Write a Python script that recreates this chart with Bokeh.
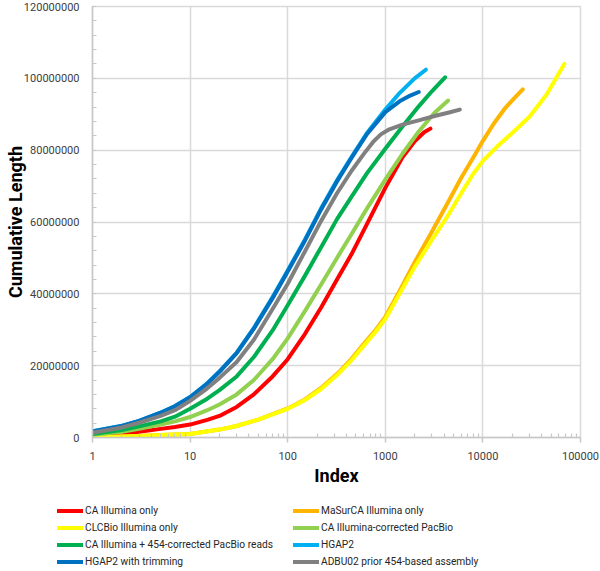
from bokeh.plotting import figure
from bokeh.models import Range1d, FixedTicker, NumeralTickFormatter, Legend, LegendItem
from bokeh.embed import file_html
from bokeh.resources import INLINE

# ---------------- data (index, cumulative length in millions of bp) ----------------
red_x = [1, 2, 3, 5, 7, 10, 15, 20, 30, 45, 70, 100, 150, 220, 320, 450, 650, 1000, 1500, 2000, 2500, 2900]
red_y = [0.5, 1.1, 1.6, 2.4, 2.9, 3.6, 4.9, 6.0, 8.5, 12.0, 17.0, 21.8, 28.8, 36.2, 44.0, 51.0, 59.5, 69.5, 78.0, 82.5, 85.0, 86.0]

orange_x = [1, 2, 3, 5, 10, 20, 30, 50, 100, 150, 220, 330, 450, 600, 800, 1000, 1400, 2000, 3000, 4200, 6000, 8000, 10000, 13000, 17000, 21000, 25600]
orange_y = [0.05, 0.25, 0.45, 0.7, 1.0, 2.2, 3.2, 5.0, 8.1, 10.6, 13.8, 18.0, 21.9, 26.0, 30.0, 33.6, 40.8, 48.8, 57.3, 64.5, 72.3, 78.0, 82.6, 87.5, 91.8, 94.5, 96.9]

yellow_x = [1, 2, 3, 5, 10, 20, 30, 50, 100, 150, 220, 330, 450, 600, 800, 1000, 1400, 2000, 3000, 4200, 6000, 8000, 10000, 14000, 20000, 30000, 45000, 68200]
yellow_y = [0.05, 0.25, 0.45, 0.7, 1.0, 2.2, 3.2, 5.0, 8.0, 10.4, 13.5, 17.7, 21.5, 25.5, 29.5, 33.0, 40.0, 47.5, 55.0, 61.0, 68.0, 73.5, 77.0, 81.0, 84.8, 89.3, 95.5, 104.0]

lgreen_x = [1, 2, 3, 5, 7, 10, 15, 20, 30, 45, 70, 100, 150, 220, 320, 450, 650, 1000, 1500, 2200, 3200, 4400]
lgreen_y = [0.75, 1.6, 2.4, 3.6, 4.5, 5.7, 7.6, 9.2, 12.0, 16.0, 21.8, 27.6, 35.2, 42.6, 50.0, 56.6, 63.8, 71.8, 79.0, 85.2, 90.4, 93.8]

green_x = [1, 2, 3, 5, 7, 10, 15, 20, 30, 45, 70, 100, 150, 220, 320, 450, 650, 1000, 1500, 2200, 3000, 4100]
green_y = [1.0, 2.1, 3.1, 4.5, 5.8, 8.0, 10.8, 13.2, 17.0, 22.4, 29.8, 36.8, 45.0, 53.0, 60.8, 67.0, 73.6, 80.4, 86.6, 92.2, 96.4, 100.3]

lblue_x = [1, 2, 3, 5, 7, 10, 15, 20, 30, 45, 70, 100, 150, 220, 320, 450, 650, 1000, 1400, 2000, 2600]
lblue_y = [1.75, 3.25, 4.65, 6.95, 8.75, 11.25, 15.1, 18.4, 23.6, 30.5, 39.1, 46.5, 55.1, 63.8, 71.6, 78.1, 84.8, 91.3, 95.9, 100.0, 102.4]

dblue_x = [1, 2, 3, 5, 7, 10, 15, 20, 30, 45, 70, 100, 150, 220, 320, 450, 650, 1000, 1400, 1800, 2200]
dblue_y = [1.7, 3.2, 4.6, 6.9, 8.7, 11.2, 15.0, 18.3, 23.5, 30.3, 38.8, 46.2, 54.8, 63.5, 71.3, 77.8, 84.5, 90.6, 93.6, 95.2, 96.2]

gray_x = [1, 2, 3, 5, 7, 10, 15, 20, 30, 45, 70, 100, 150, 220, 320, 450, 600, 750, 900, 1100, 1500, 2200, 3200, 4500, 5800]
gray_y = [1.3, 2.8, 4.1, 6.0, 7.6, 10.2, 13.7, 16.6, 21.0, 27.2, 35.8, 42.8, 51.8, 60.3, 68.0, 74.2, 78.9, 82.3, 84.4, 85.8, 87.1, 88.3, 89.5, 90.5, 91.3]

series_labels = [
    "CA Illumina only",
    "MaSurCA Illumina only",
    "CLCBio Illumina only",
    "CA Illumina-corrected PacBio",
    "CA Illumina + 454-corrected PacBio reads",
    "HGAP2",
    "HGAP2 with trimming",
    "ADBU02 prior 454-based assembly",
]
series_x = [red_x, orange_x, yellow_x, lgreen_x, green_x, lblue_x, dblue_x, gray_x]
series_y = [red_y, orange_y, yellow_y, lgreen_y, green_y, lblue_y, dblue_y, gray_y]
series_colors = ["#FF0000", "#FFB400", "#FFFF00", "#92D050", "#00B050", "#00B0F0", "#0070C0", "#808080"]

x_major = [1, 10, 100, 1000, 10000, 100000]
x_minor = [m * d for d in [1, 10, 100, 1000, 10000] for m in range(2, 10)]
y_major = [0, 20000000, 40000000, 60000000, 80000000, 100000000, 120000000]
y_minor = list(range(0, 120000001, 4000000))

GRID = "#d9d9d9"
FONT = "Roboto"

# ---------------- main chart ----------------
p = figure(width=600, height=488, x_axis_type="log",
           x_range=Range1d(1, 100000), y_range=Range1d(0, 120000000),
           output_backend="svg", toolbar_location=None,
           min_border_left=92, min_border_right=20, min_border_top=6, min_border_bottom=51)

p.outline_line_color = GRID
p.outline_line_width = 1.5
p.background_fill_color = "white"
p.border_fill_color = "white"

xt = FixedTicker(ticks=x_major, minor_ticks=x_minor)
yt = FixedTicker(ticks=y_major, minor_ticks=y_minor)
p.xaxis[0].ticker = xt
p.yaxis[0].ticker = yt
p.xgrid[0].ticker = xt
p.ygrid[0].ticker = yt
for g in (p.xgrid[0], p.ygrid[0]):
    g.grid_line_color = GRID
    g.grid_line_width = 1.5

xa = p.xaxis[0]
xa.formatter = NumeralTickFormatter(format="0")
xa.axis_label = "Index"
xa.major_tick_out = 5
xa.major_tick_in = 0
xa.minor_tick_in = 4
xa.minor_tick_out = 0
xa.major_label_standoff = 9
xa.axis_label_standoff = 2

ya = p.yaxis[0]
ya.formatter = NumeralTickFormatter(format="0")
ya.axis_label = "Cumulative Length"
ya.major_tick_out = 0
ya.major_tick_in = 0
ya.minor_tick_in = 4
ya.minor_tick_out = 0
ya.major_label_standoff = 13
ya.axis_label_standoff = -5

for a in (xa, ya):
    a.axis_line_color = "#c8c8c8"
    a.axis_line_width = 1.5
    a.major_tick_line_color = "#c8c8c8"
    a.major_tick_line_width = 1.5
    a.minor_tick_line_color = "#c8c8c8"
    a.minor_tick_line_width = 1.2
    a.major_label_text_font = FONT
    a.major_label_text_font_size = "11px"
    a.major_label_text_color = "#404040"
    a.axis_label_text_font = FONT
    a.axis_label_text_font_size = "18px"
    a.axis_label_text_font_style = "bold"
    a.axis_label_text_color = "#000000"

for xs, ys, col in zip(series_x, series_y, series_colors):
    p.line(xs, [v * 1e6 for v in ys], line_color=col, line_width=4,
           line_cap="round", line_join="round")

# ---------------- legend strip below the chart (separate root, so its frame is not aligned) ----------------
q = figure(width=600, height=82, x_range=Range1d(-2, -1), y_range=Range1d(-2, -1),
           output_backend="svg", toolbar_location=None,
           x_axis_location=None, y_axis_location=None,
           min_border_left=0, min_border_right=0, min_border_top=0, min_border_bottom=0)
q.outline_line_color = None
q.grid.visible = False
q.background_fill_color = "white"
q.border_fill_color = "white"

items = []
for lab, xs, ys, col in zip(series_labels, series_x, series_y, series_colors):
    r = q.line(xs, [v * 1e6 for v in ys], line_color=col, line_width=4, line_cap="round")
    items.append(LegendItem(label=lab, renderers=[r]))

# location = bottom-left corner of the legend box, measured from the strip's frame
legend = Legend(items=items, location=(57, 0), orientation="horizontal", ncols=2,
                glyph_width=26, glyph_height=17, label_height=17, label_width=208,
                label_standoff=2, spacing=0, padding=0, margin=0,
                border_line_alpha=0, background_fill_alpha=0,
                label_text_font=FONT, label_text_font_size="10.2px",
                label_text_color="#262626")
q.add_layout(legend)

open("out.html", "w").write(file_html([p, q], INLINE))
